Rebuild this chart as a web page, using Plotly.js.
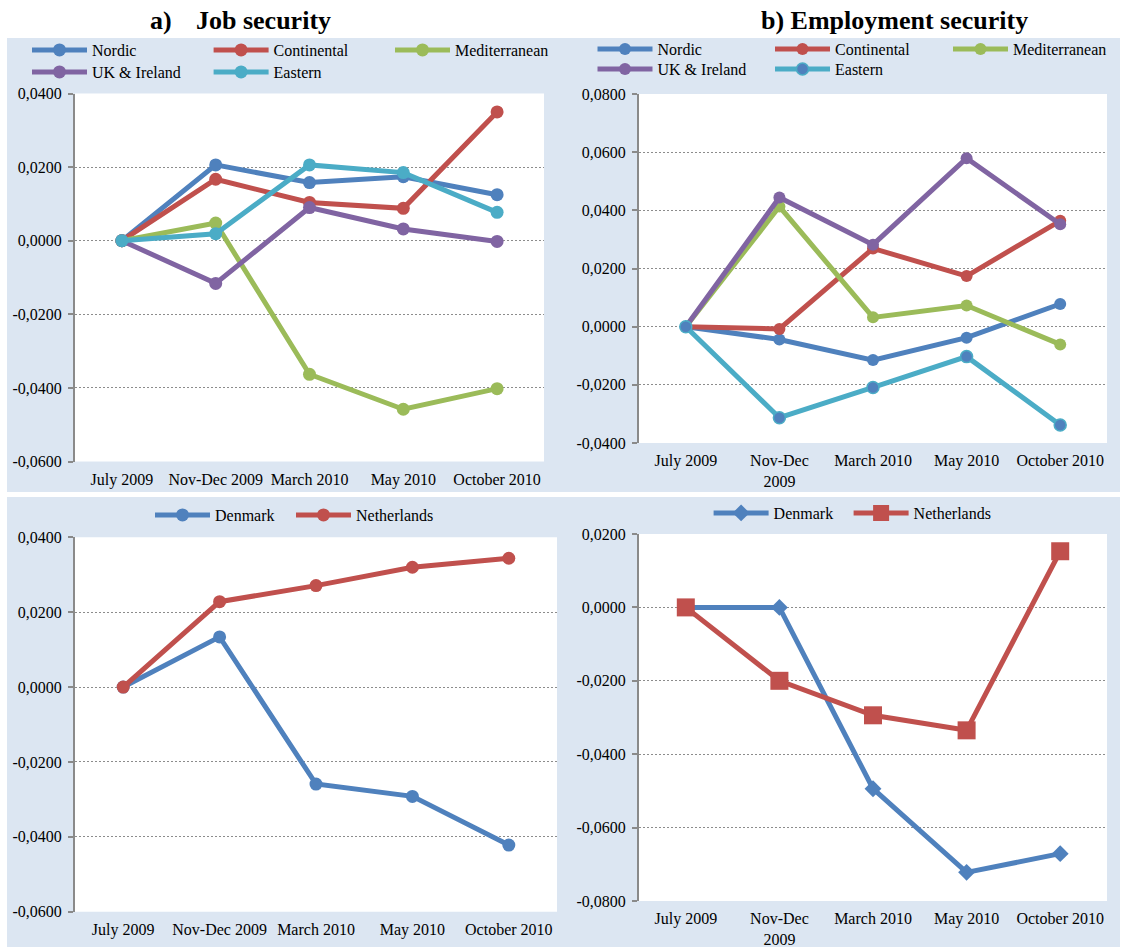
<!DOCTYPE html>
<html>
<head>
<meta charset="utf-8">
<script src="https://cdn.plot.ly/plotly-3.0.1.min.js"></script>
<style>
  html, body { margin: 0; padding: 0; background: #ffffff; }
  #chart { width: 1123px; height: 947px; }
</style>
</head>
<body>
<div id="chart"></div>
<script>
// Survey waves
const periodsLeft = ['July 2009', 'Nov-Dec 2009', 'March 2010', 'May 2010', 'October 2010'];
const periodsRight = ['July 2009', 'Nov-Dec<br>2009', 'March 2010', 'May 2010', 'October 2010'];

// a) Job security, change relative to July 2009, by welfare regime
const jobNordic = [0, 0.0206, 0.0158, 0.0174, 0.0125];
const jobContinental = [0, 0.0167, 0.0104, 0.0088, 0.0350];
const jobMediterranean = [0, 0.0048, -0.0363, -0.0458, -0.0402];
const jobUKIreland = [0, -0.0116, 0.0090, 0.0032, -0.0002];
const jobEastern = [0, 0.0019, 0.0206, 0.0185, 0.0077];

// b) Employment security, change relative to July 2009, by welfare regime
const empNordic = [0, -0.0044, -0.0115, -0.0038, 0.0078];
const empContinental = [0, -0.0008, 0.0269, 0.0174, 0.0364];
const empMediterranean = [0, 0.0413, 0.0032, 0.0073, -0.0061];
const empUKIreland = [0, 0.0444, 0.0282, 0.0579, 0.0352];
const empEastern = [0, -0.0313, -0.0209, -0.0103, -0.0338];

// Country comparison
const jobDenmark = [0, 0.0134, -0.0259, -0.0292, -0.0422];
const jobNetherlands = [0, 0.0228, 0.0271, 0.0320, 0.0344];
const empDenmark = [0, 0.0000, -0.0494, -0.0722, -0.0671];
const empNetherlands = [0, -0.0200, -0.0294, -0.0335, 0.0153];

// Y axis tick values
const ticksJob = [-0.06, -0.04, -0.02, 0, 0.02, 0.04];
const ticksEmp = [-0.04, -0.02, 0, 0.02, 0.04, 0.06, 0.08];
const ticksEmpCountry = [-0.08, -0.06, -0.04, -0.02, 0, 0.02];

const W = 1123, H = 947;
const fx = p => p / W;
const fy = p => 1 - p / H;

const COL = {
  blue: '#4F81BD', red: '#C0504D', green: '#9BBB59',
  purple: '#8064A2', cyan: '#4BACC6'
};
const AXIS_GREY = '#8a8a8a';
const FONT = 'Liberation Serif, Times New Roman, serif';
const fmt = v => v.toFixed(4).replace('.', ',');

// Each series gets its own single-entry legend, placed at [x, y] in pixels
function line(name, x, y, color, axes, legendPos, marker) {
  return {
    type: 'scatter', mode: 'lines+markers', name: name,
    x: x, y: y, xaxis: axes[0], yaxis: axes[1], _legendPos: legendPos,
    line: { color: color, width: 5 },
    marker: Object.assign({ color: color, size: 13, symbol: 'circle', line: { width: 0 } }, marker || {}),
    hoverinfo: 'x+y+name'
  };
}

const traces = [
  line('Nordic', periodsLeft, jobNordic, COL.blue, ['x', 'y'], [32, 50]),
  line('Continental', periodsLeft, jobContinental, COL.red, ['x', 'y'], [213.6, 50]),
  line('Mediterranean', periodsLeft, jobMediterranean, COL.green, ['x', 'y'], [395, 50]),
  line('UK & Ireland', periodsLeft, jobUKIreland, COL.purple, ['x', 'y'], [32, 72]),
  line('Eastern', periodsLeft, jobEastern, COL.cyan, ['x', 'y'], [213.6, 72]),

  line('Nordic', periodsRight, empNordic, COL.blue, ['x2', 'y2'], [597.5, 49], { size: 12 }),
  line('Continental', periodsRight, empContinental, COL.red, ['x2', 'y2'], [775, 49], { size: 12 }),
  line('Mediterranean', periodsRight, empMediterranean, COL.green, ['x2', 'y2'], [953, 49], { size: 12 }),
  line('UK & Ireland', periodsRight, empUKIreland, COL.purple, ['x2', 'y2'], [597.5, 69], { size: 12 }),
  line('Eastern', periodsRight, empEastern, COL.cyan, ['x2', 'y2'], [775, 69],
       { size: 12, color: COL.blue, line: { color: COL.cyan, width: 1.5 } }),

  line('Denmark', periodsLeft, jobDenmark, COL.blue, ['x3', 'y3'], [155, 515]),
  line('Netherlands', periodsLeft, jobNetherlands, COL.red, ['x3', 'y3'], [296, 515]),

  line('Denmark', periodsRight, empDenmark, COL.blue, ['x4', 'y4'], [713.6, 513], { symbol: 'diamond', size: 13 }),
  line('Netherlands', periodsRight, empNetherlands, COL.red, ['x4', 'y4'], [853.6, 513], { symbol: 'square', size: 18 })
];

// Panel geometry in pixels: plot area left/right, top/bottom
const panels = [
  { id: '',  ov: 5, px: [75, 544],  py: [93.5, 461.5], range: [-0.06, 0.04], ticks: ticksJob,        cats: periodsLeft },
  { id: '2', ov: 6, px: [639, 1107], py: [94, 443],    range: [-0.04, 0.08], ticks: ticksEmp,        cats: periodsRight },
  { id: '3', ov: 7, px: [75, 557],  py: [537.3, 911.7], range: [-0.06, 0.04], ticks: ticksJob,       cats: periodsLeft },
  { id: '4', ov: 8, px: [639, 1107], py: [534, 901],    range: [-0.08, 0.02], ticks: ticksEmpCountry, cats: periodsRight }
];

const tickFont = { family: FONT, size: 16, color: '#000000' };

const layout = {
  width: W, height: H,
  margin: { l: 0, r: 0, t: 0, b: 0, pad: 0 },
  paper_bgcolor: '#ffffff',
  plot_bgcolor: 'rgba(0,0,0,0)',
  font: { family: FONT, size: 16, color: '#000000' },
  showlegend: true,
  hovermode: 'closest',
  shapes: [
    // light blue chart areas
    { type: 'rect', xref: 'paper', yref: 'paper', layer: 'below', line: { width: 0 },
      fillcolor: '#DCE6F2', x0: fx(7), x1: fx(1120), y0: fy(492), y1: fy(38) },
    { type: 'rect', xref: 'paper', yref: 'paper', layer: 'below', line: { width: 0 },
      fillcolor: '#DCE6F2', x0: fx(7), x1: fx(1120), y0: fy(947), y1: fy(497) }
  ],
  annotations: [
    { text: '<b>a)</b>', xref: 'paper', yref: 'paper', x: fx(148), y: fy(20), xanchor: 'left', yanchor: 'middle',
      showarrow: false, font: { family: FONT, size: 26, color: '#000' } },
    { text: '<b>Job security</b>', xref: 'paper', yref: 'paper', x: fx(194), y: fy(20), xanchor: 'left', yanchor: 'middle',
      showarrow: false, font: { family: FONT, size: 26, color: '#000' } },
    { text: '<b>b) Employment security</b>', xref: 'paper', yref: 'paper', x: fx(759), y: fy(20), xanchor: 'left', yanchor: 'middle',
      showarrow: false, font: { family: FONT, size: 26, color: '#000' } }
  ]
};

panels.forEach(p => {
  const xd = [fx(p.px[0]), fx(p.px[1])];
  const yd = [fy(p.py[1]), fy(p.py[0])];
  // white plotting area
  layout.shapes.push({ type: 'rect', xref: 'paper', yref: 'paper', layer: 'below', line: { width: 0 },
    fillcolor: '#ffffff', x0: xd[0], x1: xd[1], y0: yd[0], y1: yd[1] });

  layout['xaxis' + p.id] = {
    domain: xd, anchor: 'y' + p.id, type: 'category', categoryarray: p.cats, categoryorder: 'array',
    range: [-0.5, 4.5], showgrid: false, zeroline: false, showline: false, ticks: '',
    tickfont: tickFont, ticklabelstandoff: 6, fixedrange: true
  };
  layout['yaxis' + p.id] = {
    domain: yd, anchor: 'x' + p.id, range: p.range, tickmode: 'array',
    tickvals: p.ticks, ticktext: p.ticks.map(fmt),
    showgrid: true, gridcolor: '#8c8c8c', gridwidth: 1, griddash: '2px,2px',
    zeroline: false, showline: true, linecolor: AXIS_GREY, linewidth: 2,
    ticks: 'outside', ticklen: 5, tickwidth: 1.5, tickcolor: AXIS_GREY,
    tickfont: tickFont, ticklabelstandoff: 3, fixedrange: true
  };
  // horizontal axis line through zero, with category-boundary ticks
  const zeroPos = yd[0] + (0 - p.range[0]) / (p.range[1] - p.range[0]) * (yd[1] - yd[0]);
  layout['xaxis' + p.ov] = {
    overlaying: 'x' + p.id, anchor: 'free', position: zeroPos, side: 'bottom',
    range: [-0.5, 4.5], tickmode: 'linear', tick0: -0.5, dtick: 1,
    ticks: 'outside', ticklen: 5, tickwidth: 1.5, tickcolor: AXIS_GREY,
    showticklabels: false, showgrid: false, zeroline: false,
    showline: true, linecolor: AXIS_GREY, linewidth: 2, fixedrange: true
  };
});

// Legends: one entry each, the sample line starting at the given pixel x
const legendBase = {
  orientation: 'h', xanchor: 'left', yanchor: 'middle', xref: 'paper', yref: 'paper',
  bgcolor: 'rgba(0,0,0,0)', borderwidth: 0, itemwidth: 55,
  font: { family: FONT, size: 16, color: '#000' },
  itemclick: false, itemdoubleclick: false
};
traces.forEach((t, i) => {
  const key = i === 0 ? 'legend' : 'legend' + (i + 1);
  const pos = t._legendPos;
  delete t._legendPos;
  t.legend = key;
  t.showlegend = true;
  layout[key] = Object.assign({}, legendBase, { x: fx(pos[0] - 5), y: fy(pos[1]) });
});

Plotly.newPlot('chart', traces, layout, { displayModeBar: false, responsive: false });
</script>
</body>
</html>
